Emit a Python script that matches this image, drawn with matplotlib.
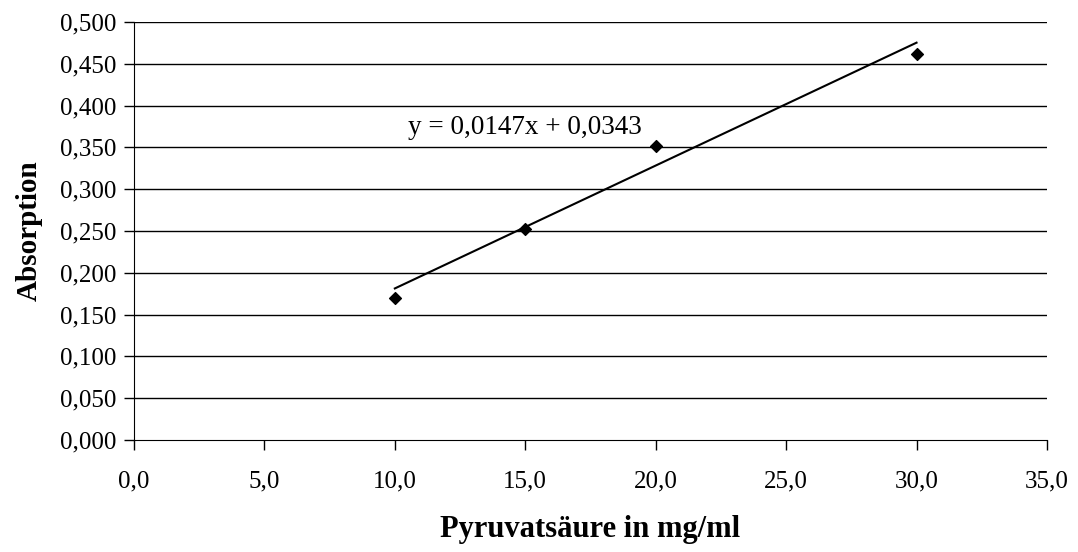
import matplotlib.pyplot as plt
from matplotlib.ticker import FuncFormatter

# data
konz = [10.0, 15.0, 20.0, 30.0]
absorption = [0.170, 0.253, 0.352, 0.462]
slope = 0.0147
intercept = 0.0343

plt.rcParams["font.family"] = ["Liberation Serif", "DejaVu Serif"]

fig = plt.figure(figsize=(10.78, 5.52), dpi=100, facecolor="white")
ax = fig.add_axes([0.1243, 0.2029, 0.8469, 0.7572])

# horizontal gridlines like Excel
for yv in [i * 0.05 for i in range(1, 11)]:
    ax.axhline(yv, color="black", linewidth=1.0, zorder=1)

ax.scatter(konz, absorption, marker="D", s=36, color="black", zorder=3)

# linear trendline over the data range
xs = [min(konz), max(konz)]
ax.plot(xs, [slope * x + intercept for x in xs], color="black", linewidth=1.5, zorder=2)

ax.text(10.5, 0.374, "y = 0,0147x + 0,0343", fontsize=19.5, ha="left", va="center")

ax.set_xlim(0, 35)
ax.set_ylim(0, 0.5)
ax.set_xticks([i * 5.0 for i in range(8)])
ax.set_yticks([i * 0.05 for i in range(11)])
ax.xaxis.set_major_formatter(FuncFormatter(lambda v, p: f"{v:.1f}".replace(".", ",")))
ax.yaxis.set_major_formatter(FuncFormatter(lambda v, p: f"{v:.3f}".replace(".", ",")))
ax.tick_params(direction="out", length=7, width=1, labelsize=18, pad=6)
ax.tick_params(axis="x", pad=15)

ax.spines["top"].set_visible(False)
ax.spines["right"].set_visible(False)

ax.set_xlabel("Pyruvatsäure in mg/ml", fontsize=22, fontweight="bold", labelpad=16)
ax.set_ylabel("Absorption", fontsize=21, fontweight="bold", labelpad=12)

fig.savefig("out.png", dpi=100)
